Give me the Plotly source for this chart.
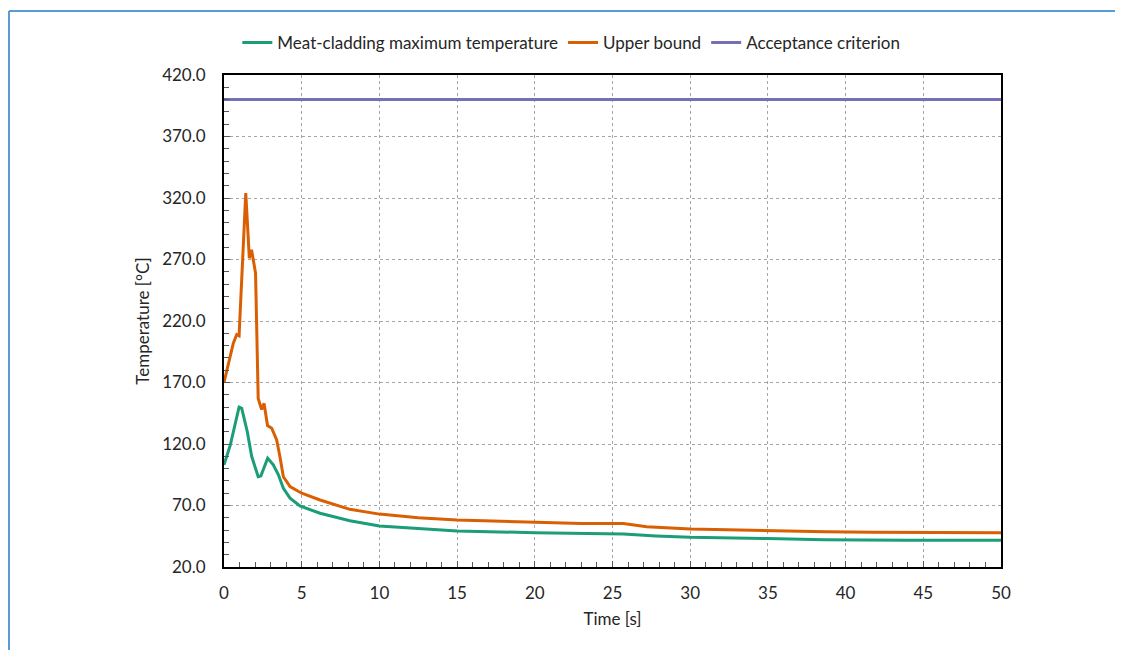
import plotly.graph_objects as go

# Meat-cladding maximum temperature
t_meat = [0, 0.4, 0.97, 1.14, 1.5, 1.78, 2.2, 2.37, 2.81, 3.17, 3.5, 3.82, 4.25, 4.89,
          6.18, 8.1, 10, 12.5, 15, 20, 23, 25.7, 27.8, 30, 35, 38.6, 44, 50]
v_meat = [103, 119, 150, 149, 130, 110, 93.5, 94, 108.5, 103, 95, 84, 76, 69.6,
          63.7, 57.6, 53.3, 51, 49.3, 47.9, 47.4, 46.8, 45.2, 44.1, 43.1, 42.2, 41.7, 41.7]

# Upper bound
t_upper = [0, 0.6, 0.82, 0.97, 1.4, 1.63, 1.77, 2.03, 2.2, 2.42, 2.58, 2.8, 3.07, 3.39,
           3.6, 3.82, 4.25, 5, 6.18, 8.1, 10, 12.5, 15, 20, 23, 25.7, 27.2, 30, 35,
           38.7, 41.8, 45.8, 50]
v_upper = [170, 202, 209, 208, 324, 271, 278, 259, 157, 148, 153, 135, 132.8, 123.3,
           109.7, 93.4, 85.3, 80, 74.5, 66.9, 63, 60, 58.2, 56.3, 55.3, 55.3, 52.8, 50.9, 49.5,
           48.7, 48.2, 47.9, 47.9]

# Acceptance criterion
t_acc = [0, 50]
v_acc = [400, 400]

x_ticks = list(range(0, 51, 5))
y_ticks = [20, 70, 120, 170, 220, 270, 320, 370, 420]

FONT = "Lato"

fig = go.Figure()
fig.add_trace(go.Scatter(x=t_meat, y=v_meat, mode="lines", name="Meat-cladding maximum temperature",
                         line=dict(color="#1B9E77", width=3)))
fig.add_trace(go.Scatter(x=t_upper, y=v_upper, mode="lines", name="Upper bound",
                         line=dict(color="#D95F02", width=3)))
fig.add_trace(go.Scatter(x=t_acc, y=v_acc, mode="lines", name="Acceptance criterion",
                         line=dict(color="#7570B3", width=3)))

fig.update_layout(
    width=1115, height=642,
    margin=dict(l=216, r=122, t=67, b=83),
    paper_bgcolor="white", plot_bgcolor="white",
    font=dict(family=FONT, size=17, color="#262626"),
    showlegend=True,
    legend=dict(orientation="h", x=0.447, xanchor="center", y=1.065, yanchor="middle",
                font=dict(size=17), itemwidth=30, traceorder="normal"),
    xaxis=dict(range=[0, 50], tickvals=x_ticks, ticktext=[str(v) for v in x_ticks],
               showgrid=True, gridcolor="#A6A6A6", griddash="dot", gridwidth=1,
               showline=True, linecolor="#000000", linewidth=2, mirror=True,
               ticks="inside", ticklen=6, tickcolor="#595959", ticklabelstandoff=10,
               minor=dict(dtick=1, ticks="inside", ticklen=5, tickcolor="#595959", showgrid=False),
               title=dict(text="Time [s]", standoff=11, font=dict(size=17)),
               zeroline=False),
    yaxis=dict(range=[20, 420], tickvals=y_ticks, ticktext=[f"{v:.1f}" for v in y_ticks],
               showgrid=True, gridcolor="#A6A6A6", griddash="dot", gridwidth=1,
               showline=True, linecolor="#000000", linewidth=2, mirror=True,
               ticks="inside", ticklen=6, tickcolor="#595959", ticklabelstandoff=13,
               minor=dict(dtick=10, ticks="inside", ticklen=5, tickcolor="#595959", showgrid=False),
               title=dict(text="Temperature [°C]", standoff=8, font=dict(size=17)),
               zeroline=False),
    shapes=[
        dict(type="line", xref="paper", yref="paper", x0=-0.2767, x1=1.25, y0=1.130, y1=1.130,
             line=dict(color="#5B9BD5", width=2)),
        dict(type="line", xref="paper", yref="paper", x0=-0.2767, x1=-0.2767, y0=1.130, y1=-0.3,
             line=dict(color="#5B9BD5", width=2)),
    ],
)

fig.write_html("out.html")
